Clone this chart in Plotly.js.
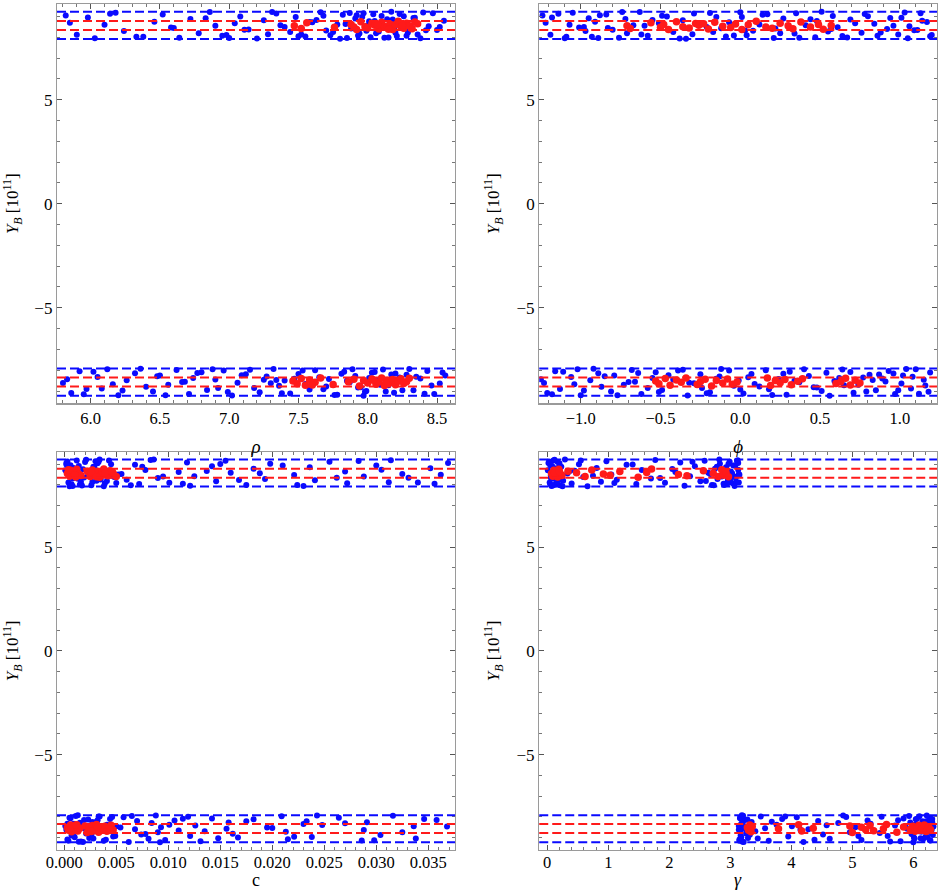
<!DOCTYPE html>
<html>
<head>
<meta charset="utf-8">
<script src="https://cdn.plot.ly/plotly-3.0.1.min.js"></script>
<style>
html,body{margin:0;padding:0;background:#fff;}
#chart{width:939px;height:892px;}
#chart svg text{font-family:'Liberation Serif','Times New Roman',serif !important;}
</style>
</head>
<body>
<div id="chart"></div>
<script>
// Y_B values [10^11] shared by all four panels
const yBlueTop = [9.05, 8.12, 8.95, 7.95, 8.60, 9.18, 8.30, 8.02, 8.75, 9.10,
  8.45, 7.98, 8.88, 8.20, 9.22, 8.55, 8.07, 8.68, 9.00, 8.38,
  7.94, 8.82, 8.15, 9.14, 8.50, 8.25, 8.97, 8.04, 8.72, 9.20,
  8.33, 8.10, 8.62, 9.08, 7.96, 8.42, 8.90, 8.18, 9.16, 8.58,
  8.00, 8.78, 8.28, 9.02, 8.48, 7.99, 8.85, 8.22, 9.12, 8.65,
  8.08, 8.40, 8.93, 8.13, 9.19, 8.53, 8.35, 8.80, 8.05, 9.06,
  8.70, 9.13, 8.03, 8.47, 8.91, 7.97, 8.36, 9.21, 8.58, 8.14,
  8.83, 9.04, 8.26, 7.93, 8.64, 9.17, 8.44, 8.09, 8.98, 8.31,
  8.77, 9.11, 8.19, 8.52, 7.98, 8.87, 9.23, 8.40, 8.06, 8.67,
  9.01, 8.23, 8.56, 8.94, 7.95, 8.34, 9.15, 8.73, 8.11, 8.49];
const yRedTop = [8.55, 8.42, 8.70, 8.48, 8.62, 8.38, 8.75, 8.51, 8.45, 8.66,
  8.58, 8.40, 8.72, 8.53, 8.47, 8.64, 8.37, 8.60, 8.77, 8.50,
  8.44, 8.68, 8.56, 8.41, 8.73, 8.49, 8.61, 8.39, 8.57, 8.65];
const yBlueBot = [-8.62, -9.10, -8.05, -8.90, -8.33, -7.96, -9.20, -8.48, -8.15, -8.80,
  -9.02, -8.25, -8.70, -7.99, -8.55, -9.15, -8.38, -8.10, -8.95, -8.45,
  -8.02, -9.22, -8.60, -8.20, -8.85, -9.06, -8.30, -7.94, -8.75, -8.50,
  -9.12, -8.18, -8.66, -8.00, -8.92, -8.42, -9.18, -8.08, -8.58, -8.28,
  -8.82, -9.00, -8.12, -8.52, -7.97, -8.72, -9.08, -8.35, -8.22, -8.97,
  -8.40, -8.04, -9.14, -8.64, -8.26, -8.88, -7.95, -8.46, -9.04, -8.16,
  -8.44, -9.16, -8.07, -8.68, -8.98, -7.93, -8.29, -9.21, -8.57, -8.13,
  -8.86, -9.05, -8.24, -7.98, -8.63, -9.11, -8.41, -8.01, -8.93, -8.34,
  -8.78, -9.19, -8.17, -8.51, -7.96, -8.83, -9.23, -8.38, -8.09, -8.70,
  -9.03, -8.21, -8.54, -8.96, -7.94, -8.31, -9.13, -8.74, -8.11, -8.47];
const yRedBot = [-8.52, -8.65, -8.40, -8.72, -8.47, -8.58, -8.38, -8.69, -8.55, -8.44,
  -8.76, -8.50, -8.62, -8.42, -8.67, -8.57, -8.37, -8.74, -8.49, -8.60,
  -8.45, -8.70, -8.53, -8.41, -8.64, -8.56, -8.39, -8.71, -8.48, -8.61];

// rho
const rhoBlueTop = [5.82, 5.90, 5.98, 6.03, 6.10, 6.18, 6.24, 6.38, 6.46, 6.52,
  6.60, 6.64, 6.72, 6.78, 6.86, 6.90, 6.95, 7.04, 7.08, 7.14,
  7.20, 7.25, 7.28, 7.34, 7.40, 7.44, 7.48, 7.55, 7.60, 7.66,
  7.70, 7.73, 7.78, 7.82, 7.85, 7.88, 7.91, 7.94, 7.97, 8.00,
  8.02, 8.05, 8.08, 8.10, 8.13, 8.15, 8.18, 8.20, 8.23, 8.25,
  8.28, 8.30, 8.33, 8.36, 8.40, 8.44, 8.50, 8.55, 7.50, 7.92,
  5.85, 6.14, 6.33, 6.58, 6.83, 7.00, 7.11, 7.31, 7.37, 7.52,
  7.63, 7.68, 7.75, 7.80, 7.84, 7.87, 7.90, 7.93, 7.96, 7.99,
  8.01, 8.04, 8.06, 8.09, 8.12, 8.14, 8.17, 8.19, 8.21, 8.24,
  8.26, 8.29, 8.31, 8.34, 8.38, 8.42, 8.47, 7.58, 6.98, 8.52];
const rhoRedTop = [7.47, 7.52, 7.56, 7.76, 7.88, 7.92, 7.95, 7.98, 8.00, 8.03,
  8.05, 8.08, 8.10, 8.12, 8.14, 8.16, 8.18, 8.20, 8.22, 8.24,
  8.26, 8.28, 8.30, 8.32, 8.34, 7.90, 8.07, 8.15, 8.25, 8.36];
const rhoBlueBot = [5.80, 5.86, 5.92, 5.97, 6.05, 6.12, 6.20, 6.26, 6.32, 6.40,
  6.45, 6.50, 6.56, 6.62, 6.68, 6.71, 6.74, 6.80, 6.84, 6.90,
  6.96, 7.02, 7.06, 7.12, 7.18, 7.22, 7.27, 7.32, 7.36, 7.40,
  7.44, 7.50, 7.55, 7.62, 7.68, 7.72, 7.78, 7.83, 7.87, 7.91,
  7.95, 7.99, 8.03, 8.07, 8.11, 8.15, 8.19, 8.23, 8.28, 8.33,
  8.38, 8.43, 8.48, 8.52, 8.56, 6.08, 6.88, 7.25, 7.98, 8.20,
  5.83, 5.95, 6.02, 6.16, 6.23, 6.36, 6.48, 6.54, 6.66, 6.77,
  6.92, 6.99, 7.09, 7.15, 7.30, 7.38, 7.47, 7.53, 7.58, 7.65,
  7.70, 7.76, 7.81, 7.85, 7.89, 7.93, 7.97, 8.01, 8.05, 8.09,
  8.13, 8.17, 8.21, 8.25, 8.30, 8.35, 8.41, 8.46, 8.54, 7.34];
const rhoRedBot = [7.46, 7.49, 7.52, 7.55, 7.58, 7.62, 7.66, 7.75, 7.86, 7.90,
  7.94, 7.97, 8.00, 8.03, 8.06, 8.08, 8.10, 8.12, 8.14, 8.16,
  8.18, 8.20, 8.22, 8.24, 8.26, 8.28, 8.30, 7.60, 8.04, 8.13];

// phi
const phiBlueTop = [-1.24, -1.19, -1.18, -1.10, -1.07, -1.05, -0.97, -0.93, -0.91, -0.84,
  -0.83, -0.76, -0.72, -0.71, -0.63, -0.60, -0.58, -0.51, -0.46, -0.45,
  -0.38, -0.36, -0.30, -0.29, -0.21, -0.17, -0.15, -0.09, -0.07, 0.00,
  0.03, 0.04, 0.12, 0.14, 0.21, 0.22, 0.27, 0.34, 0.35, 0.41,
  0.47, 0.48, 0.55, 0.58, 0.61, 0.67, 0.69, 0.76, 0.78, 0.84,
  0.86, 0.92, 0.94, 0.99, 1.03, 1.06, 1.11, 1.14, 1.19, -0.88,
  -1.22, -1.14, -1.09, -1.01, -0.95, -0.89, -0.80, -0.74, -0.67, -0.62,
  -0.55, -0.49, -0.42, -0.34, -0.26, -0.19, -0.12, -0.04, 0.01, 0.08,
  0.10, 0.17, 0.25, 0.30, 0.37, 0.44, 0.51, 0.57, 0.64, 0.72,
  0.80, 0.88, 0.96, 1.01, 1.05, 1.09, 1.13, 1.17, 1.20, -0.98];
const phiRedTop = [-0.71, -0.69, -0.56, -0.50, -0.48, -0.45, -0.40, -0.36, -0.32, -0.28,
  -0.26, -0.20, -0.16, -0.11, -0.06, -0.03, 0.01, 0.05, 0.10, 0.16,
  0.20, 0.25, 0.30, 0.33, 0.38, 0.44, 0.49, 0.52, 0.57, -0.23];
const phiBlueBot = [-1.23, -1.21, -1.16, -1.13, -1.06, -1.02, -1.00, -0.94, -0.89, -0.87,
  -0.81, -0.79, -0.73, -0.68, -0.66, -0.62, -0.55, -0.53, -0.49, -0.42,
  -0.39, -0.33, -0.32, -0.25, -0.24, -0.19, -0.13, -0.12, -0.04, -0.01,
  0.02, 0.07, 0.09, 0.16, 0.18, 0.24, 0.29, 0.31, 0.37, 0.43,
  0.46, 0.51, 0.54, 0.59, 0.64, 0.65, 0.71, 0.77, 0.81, 0.85,
  0.89, 0.93, 0.97, 1.01, 1.02, 1.07, 1.10, 1.15, 1.18, 0.96,
  -1.25, -1.18, -1.11, -1.04, -0.98, -0.92, -0.85, -0.77, -0.70, -0.64,
  -0.58, -0.51, -0.45, -0.36, -0.29, -0.21, -0.15, -0.07, 0.00, 0.05,
  0.12, 0.20, 0.27, 0.34, 0.40, 0.48, 0.56, 0.62, 0.69, 0.74,
  0.79, 0.87, 0.91, 0.99, 1.04, 1.08, 1.12, 1.16, 1.19, 0.83];
const phiRedBot = [-0.53, -0.51, -0.47, -0.44, -0.40, -0.37, -0.34, -0.27, -0.25, -0.22,
  -0.18, -0.15, -0.11, -0.08, -0.05, -0.02, 0.17, 0.19, 0.22, 0.25,
  0.28, 0.32, 0.36, 0.39, 0.60, 0.63, 0.66, 0.69, 0.72, 0.75];

// c
const cBlueTop = [0.0002, 0.0004, 0.0006, 0.0008, 0.0010, 0.0012, 0.0013, 0.0015, 0.0018, 0.0020,
  0.0023, 0.0026, 0.0028, 0.0031, 0.0034, 0.0036, 0.0039, 0.0042, 0.0045, 0.0048,
  0.0005, 0.0009, 0.0016, 0.0030, 0.0052, 0.0060, 0.0068, 0.0072, 0.0078, 0.0083,
  0.0090, 0.0101, 0.0110, 0.0118, 0.0121, 0.0125, 0.0142, 0.0146, 0.0155, 0.0160,
  0.0175, 0.0182, 0.0193, 0.0198, 0.0221, 0.0224, 0.0236, 0.0241, 0.0255, 0.0270,
  0.0272, 0.0288, 0.0300, 0.0312, 0.0314, 0.0325, 0.0331, 0.0352, 0.0356, 0.0369,
  0.0001, 0.0003, 0.0007, 0.0011, 0.0014, 0.0017, 0.0019, 0.0021, 0.0024, 0.0027,
  0.0029, 0.0032, 0.0035, 0.0038, 0.0040, 0.0043, 0.0046, 0.0050, 0.0002, 0.0008,
  0.0012, 0.0033, 0.0041, 0.0055, 0.0064, 0.0075, 0.0086, 0.0095, 0.0114, 0.0137,
  0.0150, 0.0168, 0.0188, 0.0210, 0.0230, 0.0262, 0.0283, 0.0305, 0.0340, 0.0362];
const cRedTop = [0.0003, 0.0005, 0.0006, 0.0008, 0.0009, 0.0011, 0.0012, 0.0014, 0.0016, 0.0022,
  0.0024, 0.0025, 0.0027, 0.0029, 0.0030, 0.0032, 0.0034, 0.0036, 0.0038, 0.0040,
  0.0042, 0.0044, 0.0047, 0.0050, 0.0004, 0.0010, 0.0026, 0.0031, 0.0039, 0.0046];
const cBlueBot = [0.0002, 0.0003, 0.0005, 0.0007, 0.0009, 0.0011, 0.0014, 0.0017, 0.0019, 0.0021,
  0.0024, 0.0027, 0.0029, 0.0033, 0.0035, 0.0038, 0.0041, 0.0044, 0.0047, 0.0050,
  0.0057, 0.0062, 0.0068, 0.0070, 0.0074, 0.0081, 0.0084, 0.0088, 0.0090, 0.0093,
  0.0097, 0.0106, 0.0110, 0.0119, 0.0121, 0.0126, 0.0131, 0.0142, 0.0156, 0.0158,
  0.0162, 0.0167, 0.0182, 0.0195, 0.0209, 0.0213, 0.0215, 0.0230, 0.0233, 0.0238,
  0.0248, 0.0264, 0.0286, 0.0288, 0.0291, 0.0304, 0.0316, 0.0336, 0.0338, 0.0358,
  0.0001, 0.0004, 0.0006, 0.0008, 0.0010, 0.0013, 0.0015, 0.0018, 0.0020, 0.0023,
  0.0026, 0.0028, 0.0031, 0.0034, 0.0037, 0.0040, 0.0043, 0.0046, 0.0049, 0.0003,
  0.0009, 0.0016, 0.0032, 0.0054, 0.0065, 0.0078, 0.0092, 0.0101, 0.0114, 0.0135,
  0.0148, 0.0175, 0.0200, 0.0221, 0.0243, 0.0270, 0.0298, 0.0325, 0.0346, 0.0368];
const cRedBot = [0.0003, 0.0004, 0.0006, 0.0007, 0.0009, 0.0010, 0.0012, 0.0013, 0.0015, 0.0020,
  0.0022, 0.0024, 0.0025, 0.0027, 0.0028, 0.0030, 0.0031, 0.0033, 0.0035, 0.0037,
  0.0039, 0.0041, 0.0043, 0.0045, 0.0047, 0.0005, 0.0011, 0.0026, 0.0032, 0.0044];

// gamma
const gammaBlueTop = [0.02, 0.04, 0.05, 0.07, 0.08, 0.10, 0.11, 0.13, 0.15, 0.17,
  0.19, 0.21, 0.23, 0.26, 0.29, 0.33, 0.40, 0.45, 0.52, 0.59,
  0.66, 0.81, 0.88, 0.97, 1.05, 1.14, 1.30, 1.46, 1.55, 1.77,
  1.85, 1.93, 2.10, 2.18, 2.25, 2.34, 2.42, 2.51, 2.58, 2.64,
  2.70, 2.75, 2.79, 2.83, 2.87, 2.90, 2.93, 2.96, 2.99, 3.01,
  3.04, 3.06, 3.08, 3.10, 3.12, 3.14, 0.06, 0.12, 2.95, 3.13,
  0.01, 0.03, 0.05, 0.06, 0.08, 0.09, 0.11, 0.12, 0.14, 0.16,
  0.18, 0.20, 0.22, 0.25, 0.36, 0.55, 0.75, 1.10, 1.40, 1.70,
  2.05, 2.38, 2.60, 2.67, 2.73, 2.78, 2.82, 2.86, 2.89, 2.92,
  2.97, 3.00, 3.03, 3.05, 3.07, 3.09, 3.11, 3.13, 3.14, 3.15];
const gammaRedTop = [0.07, 0.09, 0.11, 0.13, 0.15, 0.17, 0.19, 0.22, 0.24, 0.34,
  0.48, 0.62, 0.73, 0.92, 1.03, 1.19, 1.49, 1.63, 1.71, 2.15,
  2.29, 2.56, 2.72, 2.80, 2.86, 2.89, 2.93, 2.97, 0.12, 0.20];
const gammaBlueBot = [3.14, 3.15, 3.16, 3.17, 3.18, 3.19, 3.20, 3.22, 3.24, 3.26,
  3.29, 3.35, 3.41, 3.50, 3.57, 3.63, 3.76, 3.85, 3.95, 4.01,
  4.09, 4.20, 4.28, 4.44, 4.52, 4.63, 4.77, 4.85, 4.96, 5.05,
  5.15, 5.25, 5.35, 5.48, 5.58, 5.70, 5.79, 5.84, 5.90, 5.95,
  5.98, 6.01, 6.04, 6.07, 6.10, 6.13, 6.16, 6.19, 6.21, 6.23,
  6.25, 6.27, 6.28, 6.30, 6.31, 6.32, 3.21, 3.23, 6.02, 6.26,
  3.14, 3.15, 3.16, 3.17, 3.18, 3.19, 3.20, 3.22, 3.25, 3.28,
  3.32, 3.45, 3.68, 3.90, 4.15, 4.38, 4.58, 4.90, 5.10, 5.30,
  5.45, 5.62, 5.75, 5.88, 5.93, 5.97, 6.00, 6.03, 6.06, 6.09,
  6.12, 6.15, 6.18, 6.20, 6.22, 6.24, 6.27, 6.29, 6.31, 6.33];
const gammaRedBot = [3.28, 3.30, 3.32, 3.34, 3.36, 3.79, 4.12, 4.17, 4.36, 4.96,
  5.00, 5.15, 5.22, 5.29, 5.35, 5.51, 5.56, 5.73, 5.84, 5.95,
  5.99, 6.03, 6.06, 6.09, 6.12, 6.15, 6.18, 6.21, 6.25, 6.28];

// reference levels
const blueLevels = [7.92, 9.23, -7.92, -9.23];
const redLevels = [8.35, 8.78, -8.35, -8.78];

const panels = [
  {xa: 'x', ya: 'y', bt: rhoBlueTop, rt: rhoRedTop, bb: rhoBlueBot, rb: rhoRedBot},
  {xa: 'x2', ya: 'y2', bt: phiBlueTop, rt: phiRedTop, bb: phiBlueBot, rb: phiRedBot},
  {xa: 'x3', ya: 'y3', bt: cBlueTop, rt: cRedTop, bb: cBlueBot, rb: cRedBot},
  {xa: 'x4', ya: 'y4', bt: gammaBlueTop, rt: gammaRedTop, bb: gammaBlueBot, rb: gammaRedBot}
];

const BLUE = '#0a0aff', RED = '#ff1a1a';
const traces = [];
const shapes = [];
panels.forEach(p => {
  traces.push({type: 'scatter', mode: 'markers', xaxis: p.xa, yaxis: p.ya,
    x: p.bt.concat(p.bb), y: yBlueTop.concat(yBlueBot),
    marker: {color: BLUE, size: 6}, cliponaxis: true});
  traces.push({type: 'scatter', mode: 'markers', xaxis: p.xa, yaxis: p.ya,
    x: p.rt.concat(p.rb), y: yRedTop.concat(yRedBot),
    marker: {color: RED, size: 7.5}, cliponaxis: true});
  blueLevels.forEach(v => shapes.push({type: 'line', xref: p.xa + ' domain', yref: p.ya,
    x0: 0, x1: 1, y0: v, y1: v, layer: 'above', line: {color: BLUE, width: 2, dash: '9px,4px'}}));
  redLevels.forEach(v => shapes.push({type: 'line', xref: p.xa + ' domain', yref: p.ya,
    x0: 0, x1: 1, y0: v, y1: v, layer: 'above', line: {color: RED, width: 2, dash: '9px,4px'}}));
});

const FAM = "Liberation Serif";
const FONT = {family: FAM, size: 17, color: '#000'};
const XFONT = {family: FAM, size: 16.5, color: '#000'};
const TFONT = {family: FAM, size: 19, color: '#000'};
const BFONT = {family: FAM, size: 18, color: '#000'};
function xax(domain, range, dtick, minorDtick, fmt, title, anchor, lblOff) {
  return {domain: domain, range: range, dtick: dtick, tick0: 0, tickformat: fmt,
    anchor: anchor, showgrid: false, zeroline: false, showline: true, linecolor: '#9a9a9a', linewidth: 1.2,
    mirror: 'ticks', ticks: 'inside', ticklen: 5, tickcolor: '#555', tickwidth: 1,
    ticklabelstandoff: lblOff,
    minor: {dtick: minorDtick, ticks: 'inside', ticklen: 3, tickcolor: '#777', showgrid: false},
    tickfont: XFONT, title: {text: title, font: TFONT, standoff: 12}};
}
const yTitle = '<i>Y</i><sub><i>B</i></sub> [10<sup>11</sup>]';
function yax(domain, anchor) {
  return {domain: domain, range: [-9.6, 9.6], dtick: 5, tick0: 0, anchor: anchor,
    showgrid: false, zeroline: false, showline: true, linecolor: '#9a9a9a', linewidth: 1.2,
    mirror: 'ticks', ticks: 'inside', ticklen: 5, tickcolor: '#555', tickwidth: 1,
    minor: {dtick: 1, ticks: 'inside', ticklen: 3, tickcolor: '#777', showgrid: false},
    tickfont: FONT, title: {text: yTitle, font: {family: FAM, size: 17, color: '#000'}, standoff: 12}};
}
const topD = [0.5278, 1], botD = [0, 0.4708], leftD = [0, 0.4523], rightD = [0.548, 1];
const layout = {
  width: 939, height: 892, showlegend: false, hovermode: false,
  paper_bgcolor: '#fff', plot_bgcolor: '#fff', font: FONT,
  margin: {l: 57, r: 2, t: 4, b: 42},
  xaxis: xax(leftD, [5.757, 8.63], 0.5, 0.1, '.1f', '<i>ρ</i>', 'y', 0),
  yaxis: yax(topD, 'x'),
  xaxis2: xax(rightD, [-1.26, 1.233], 0.5, 0.1, '.1f', '<i>ϕ</i>', 'y2', 0),
  yaxis2: yax(topD, 'x2'),
  xaxis3: xax(leftD, [-0.0007, 0.03757], 0.005, 0.001, '.3f', '', 'y3', -3),
  yaxis3: yax(botD, 'x3'),
  xaxis4: xax(rightD, [-0.131, 6.388], 1, 0.2, 'd', '', 'y4', -3),
  yaxis4: yax(botD, 'x4'),
  shapes: shapes,
  annotations: [
    {text: 'c', xref: 'x3 domain', yref: 'paper', x: 0.5, y: -0.0355, xanchor: 'center', yanchor: 'middle', showarrow: false, font: BFONT},
    {text: '<i>γ</i>', xref: 'x4 domain', yref: 'paper', x: 0.5, y: -0.0355, xanchor: 'center', yanchor: 'middle', showarrow: false, font: BFONT}
  ]
};
Plotly.newPlot('chart', traces, layout, {staticPlot: true, displayModeBar: false});
</script>
</body>
</html>
